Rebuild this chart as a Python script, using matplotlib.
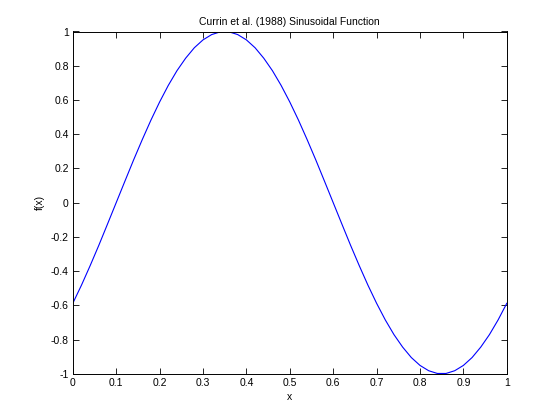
import matplotlib

matplotlib.use("Agg")
import matplotlib.pyplot as plt

# values, x step 0.02
x = [i / 50 for i in range(51)]
fx = [
    -0.588, -0.482, -0.368, -0.249, -0.125, 0.0, 0.125, 0.249, 0.368, 0.482,
    0.588, 0.685, 0.771, 0.844, 0.905, 0.951, 0.982, 0.998, 0.998, 0.982,
    0.951, 0.905, 0.844, 0.771, 0.685, 0.588, 0.482, 0.368, 0.249, 0.125,
    0.0, -0.125, -0.249, -0.368, -0.482, -0.588, -0.685, -0.771, -0.844, -0.905,
    -0.951, -0.982, -0.998, -0.998, -0.982, -0.951, -0.905, -0.844, -0.771, -0.685,
    -0.588,
]
xticks = [0, 0.1, 0.2, 0.3, 0.4, 0.5, 0.6, 0.7, 0.8, 0.9, 1]
yticks = [-1, -0.8, -0.6, -0.4, -0.2, 0, 0.2, 0.4, 0.6, 0.8, 1]

plt.rcParams["font.family"] = ["Liberation Sans", "DejaVu Sans"]
plt.rcParams["font.size"] = 7.5

fig = plt.figure(figsize=(5.6, 4.2), dpi=100)
ax = fig.add_axes([0.13, 0.11, 0.775, 0.815])
ax.plot(x, fx, color="#0000ff", linewidth=0.8)

ax.set_xlim(0, 1)
ax.set_ylim(-1, 1)
ax.set_xticks(xticks)
ax.set_xticklabels([f"{t:g}" for t in xticks])
ax.set_yticks(yticks)
ax.set_yticklabels([f"{t:g}" for t in yticks])
ax.tick_params(direction="in", top=True, right=True, length=4, width=0.6, pad=3)
for s in ax.spines.values():
    s.set_linewidth(0.7)

ax.set_title("Currin et al. (1988) Sinusoidal Function", fontsize=7.5, pad=5)
ax.set_xlabel("x", labelpad=3)
ax.set_ylabel("f(x)", labelpad=4)

fig.savefig("out.png", dpi=100)
